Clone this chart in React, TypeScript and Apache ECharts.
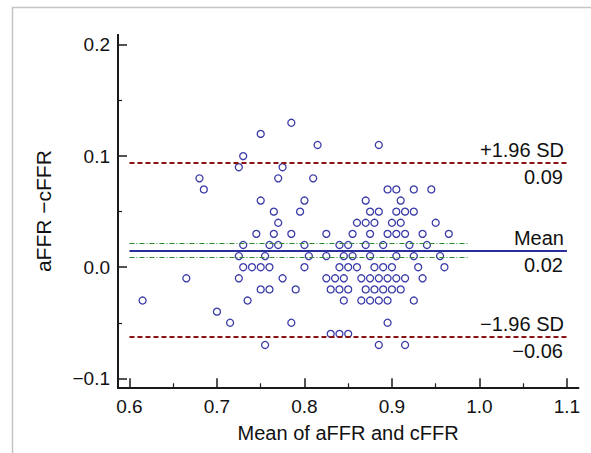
import React, { useEffect, useRef } from "react";
import * as echarts from "echarts";

// Bland-Altman data: mean of aFFR and cFFR (x) vs difference aFFR - cFFR (y)
const meanValues: number[] = [
  0.785,
  0.75,
  0.815, 0.885,
  0.73,
  0.725, 0.775,
  0.68, 0.77, 0.81,
  0.685, 0.895, 0.905, 0.925, 0.945,
  0.75, 0.8, 0.87, 0.91,
  0.765, 0.795, 0.875, 0.885, 0.905, 0.915, 0.925,
  0.77, 0.86, 0.87, 0.88, 0.9, 0.91, 0.95,
  0.745, 0.765, 0.785, 0.825, 0.855, 0.875, 0.895, 0.905, 0.915, 0.935, 0.965,
  0.73, 0.76, 0.77, 0.8, 0.84, 0.85, 0.87, 0.89, 0.92, 0.94,
  0.725, 0.755, 0.805, 0.825, 0.845, 0.855, 0.875, 0.905, 0.925, 0.955,
  0.73, 0.74, 0.75, 0.76, 0.8, 0.84, 0.85, 0.86, 0.88, 0.89, 0.9, 0.93, 0.96,
  0.665, 0.725, 0.775, 0.825, 0.835, 0.845, 0.865, 0.875, 0.885, 0.895, 0.905, 0.915, 0.935,
  0.75, 0.76, 0.79, 0.83, 0.84, 0.85, 0.87, 0.88, 0.89, 0.9, 0.91,
  0.615, 0.735, 0.845, 0.865, 0.875, 0.885, 0.895, 0.925,
  0.7,
  0.715, 0.785, 0.895,
  0.83, 0.84, 0.85,
  0.755, 0.885, 0.915,
];
const diffValues: number[] = [
  0.13,
  0.12,
  0.11, 0.11,
  0.1,
  0.09, 0.09,
  0.08, 0.08, 0.08,
  0.07, 0.07, 0.07, 0.07, 0.07,
  0.06, 0.06, 0.06, 0.06,
  0.05, 0.05, 0.05, 0.05, 0.05, 0.05, 0.05,
  0.04, 0.04, 0.04, 0.04, 0.04, 0.04, 0.04,
  0.03, 0.03, 0.03, 0.03, 0.03, 0.03, 0.03, 0.03, 0.03, 0.03, 0.03,
  0.02, 0.02, 0.02, 0.02, 0.02, 0.02, 0.02, 0.02, 0.02, 0.02,
  0.01, 0.01, 0.01, 0.01, 0.01, 0.01, 0.01, 0.01, 0.01, 0.01,
  0, 0, 0, 0, 0, 0, 0, 0, 0, 0, 0, 0, 0,
  -0.01, -0.01, -0.01, -0.01, -0.01, -0.01, -0.01, -0.01, -0.01, -0.01, -0.01, -0.01, -0.01,
  -0.02, -0.02, -0.02, -0.02, -0.02, -0.02, -0.02, -0.02, -0.02, -0.02, -0.02,
  -0.03, -0.03, -0.03, -0.03, -0.03, -0.03, -0.03, -0.03,
  -0.04,
  -0.05, -0.05, -0.05,
  -0.06, -0.06, -0.06,
  -0.07, -0.07, -0.07,
];

// Reference lines
const meanDiff = 0.015;
const meanCI: number[] = [0.009, 0.0215];
const upperLoA = 0.094;
const lowerLoA = -0.063;
const lineLabels: string[] = ["+1.96 SD", "0.09", "Mean", "0.02", "\u22121.96 SD", "\u22120.06"];

// Axes
const xMajorTicks: number[] = [0.6, 0.7, 0.8, 0.9, 1.0, 1.1];
const xMinorTicks: number[] = [0.65, 0.75, 0.85, 0.95, 1.05];
const yMajorTicks: number[] = [-0.1, 0, 0.1, 0.2];
const yMinorTicks: number[] = [-0.05, 0.05, 0.15];
const xRange: number[] = [0.5869, 1.113];
const yRange: number[] = [-0.1081, 0.209];
const lineStart = 0.6;
const lineEnd = 1.1;
const ciEnd = 0.988;

const FONT = "'Liberation Sans', Arial, Helvetica, sans-serif";
const fmt = (v: number) => (v < 0 ? "\u2212" : "") + Math.abs(v).toFixed(1);

export default function App() {
  const ref = useRef<HTMLDivElement>(null);
  useEffect(() => {
    if (!ref.current) return;
    const chart = echarts.init(ref.current, undefined, { renderer: "svg" });
    const axisLineStyle = { color: "#1a1a1a", width: 2 };
    const labelStyle = { fontSize: 20, color: "#111", fontFamily: FONT };
    const hidden = { color: "rgba(0,0,0,0)", width: 0 };
    const ciStyle = { color: "#2f8a2f", width: 1.1, type: [5, 2, 1, 2] };
    const xBase = {
      type: "value" as const,
      min: xRange[0],
      max: xRange[1],
      position: "bottom" as const,
      splitLine: { show: false },
      axisLine: { show: true, onZero: false, lineStyle: axisLineStyle },
    };
    const yBase = {
      type: "value" as const,
      min: yRange[0],
      max: yRange[1],
      position: "left" as const,
      splitLine: { show: false },
      axisLine: { show: true, onZero: false, lineStyle: axisLineStyle },
    };
    const scatterData = meanValues.map((x, i) => [x, diffValues[i]]);
    chart.setOption({
      animation: false,
      backgroundColor: "#fff",
      grid: { left: 118, right: 12.7, top: 35, bottom: 65.7, containLabel: false, outerBoundsMode: "none" },
      graphic: [
        {
          type: "rect",
          shape: { x: 12.5, y: 7.5, width: 700, height: 600 },
          style: { fill: "none", stroke: "#c4c4c4", lineWidth: 1.5 },
          silent: true,
        },
      ],
      xAxis: [
        {
          ...xBase,
          name: "Mean of aFFR and cFFR",
          nameLocation: "middle",
          nameGap: 36,
          nameTextStyle: { fontSize: 20, color: "#111", fontFamily: FONT },
          axisTick: { show: true, inside: true, length: 9, customValues: xMajorTicks, lineStyle: { color: "#1a1a1a", width: 1.5 } },
          axisLabel: {
            show: true,
            customValues: xMajorTicks,
            margin: 10,
            fontSize: 19,
            color: "#111",
            fontFamily: FONT,
            formatter: (v: number) => fmt(v),
          },
        },
        {
          ...xBase,
          axisTick: { show: true, inside: true, length: 4, customValues: xMinorTicks, lineStyle: { color: "#1a1a1a", width: 1.2 } },
          axisLabel: { show: false },
        },
      ],
      yAxis: [
        {
          ...yBase,
          name: "aFFR \u2212cFFR",
          nameLocation: "middle",
          nameRotate: 90,
          nameGap: 64,
          nameTextStyle: { fontSize: 21, color: "#111", fontFamily: FONT },
          axisTick: { show: true, inside: true, length: 9, customValues: yMajorTicks, lineStyle: { color: "#1a1a1a", width: 1.5 } },
          axisLabel: {
            show: true,
            customValues: yMajorTicks,
            margin: 8,
            fontSize: 19,
            color: "#111",
            fontFamily: FONT,
            formatter: (v: number) => fmt(v),
          },
        },
        {
          ...yBase,
          axisTick: { show: true, inside: true, length: 4, customValues: yMinorTicks, lineStyle: { color: "#1a1a1a", width: 1.2 } },
          axisLabel: { show: false },
        },
      ],
      series: [
        {
          type: "line",
          xAxisIndex: 0,
          yAxisIndex: 0,
          data: [],
          silent: true,
          markLine: {
            silent: true,
            symbol: "none",
            animation: false,
            data: [
              [
                { coord: [lineStart, meanCI[0]], lineStyle: ciStyle, label: { show: false } },
                { coord: [ciEnd, meanCI[0]] },
              ],
              [
                { coord: [lineStart, meanCI[1]], lineStyle: ciStyle, label: { show: false } },
                { coord: [ciEnd, meanCI[1]] },
              ],
              [
                {
                  coord: [lineStart, upperLoA],
                  lineStyle: { color: "#8b1212", width: 2, type: [5, 3] },
                  label: { show: true, position: "insideEndTop", distance: 3, formatter: lineLabels[0], ...labelStyle },
                },
                { coord: [lineEnd, upperLoA] },
              ],
              [
                {
                  coord: [lineStart, upperLoA],
                  lineStyle: hidden,
                  label: { show: true, position: "insideEndBottom", distance: 4, formatter: lineLabels[1], ...labelStyle },
                },
                { coord: [lineEnd, upperLoA] },
              ],
              [
                {
                  coord: [lineStart, meanDiff],
                  lineStyle: { color: "#2b2f9e", width: 1.8, type: "solid" },
                  label: { show: true, position: "insideEndTop", distance: 3, formatter: lineLabels[2], ...labelStyle },
                },
                { coord: [lineEnd, meanDiff] },
              ],
              [
                {
                  coord: [lineStart, meanDiff],
                  lineStyle: hidden,
                  label: { show: true, position: "insideEndBottom", distance: 4, formatter: lineLabels[3], ...labelStyle },
                },
                { coord: [lineEnd, meanDiff] },
              ],
              [
                {
                  coord: [lineStart, lowerLoA],
                  lineStyle: { color: "#8b1212", width: 2, type: [5, 3] },
                  label: { show: true, position: "insideEndTop", distance: 3, formatter: lineLabels[4], ...labelStyle },
                },
                { coord: [lineEnd, lowerLoA] },
              ],
              [
                {
                  coord: [lineStart, lowerLoA],
                  lineStyle: hidden,
                  label: { show: true, position: "insideEndBottom", distance: 4, formatter: lineLabels[5], ...labelStyle },
                },
                { coord: [lineEnd, lowerLoA] },
              ],
            ],
          },
        },
        {
          type: "scatter",
          xAxisIndex: 0,
          yAxisIndex: 0,
          symbol: "circle",
          symbolSize: 7,
          data: scatterData,
          itemStyle: { color: "rgba(255,255,255,0)", borderColor: "#3a3aa8", borderWidth: 1.3, opacity: 1 },
          z: 3,
        },
      ],
    });
    return () => chart.dispose();
  }, []);
  return <div ref={ref} style={{ position: "fixed", left: 0, top: 0, width: 591, height: 453 }} />;
}
